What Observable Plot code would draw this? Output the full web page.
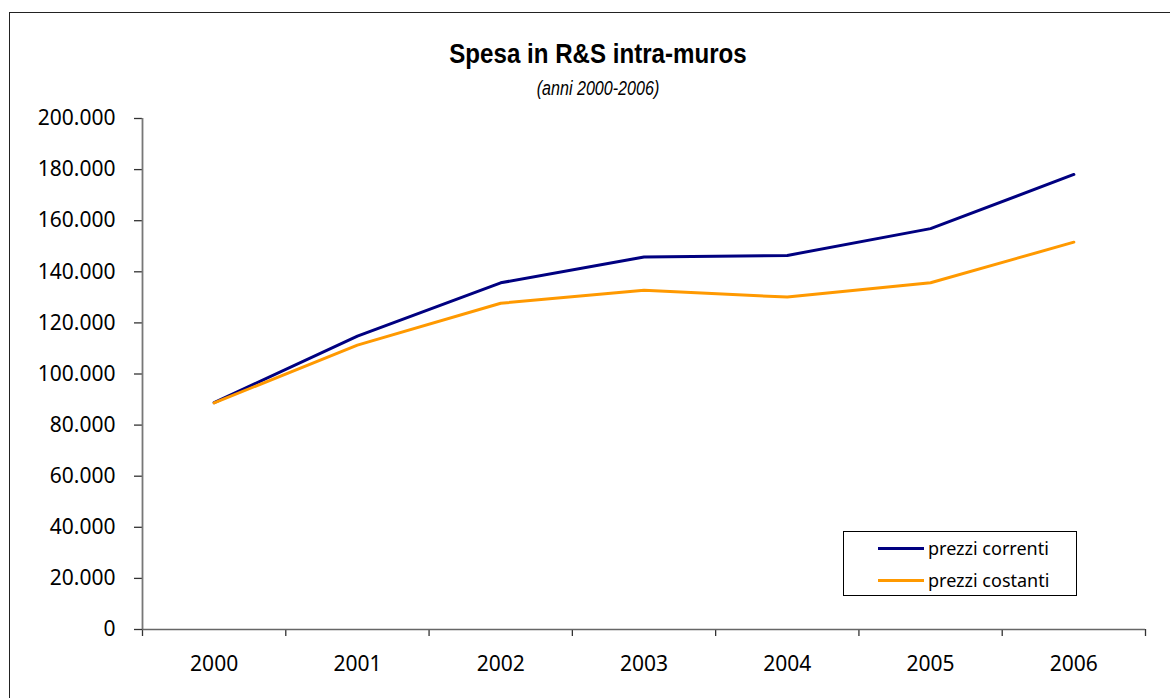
<!DOCTYPE html>
<html>
<head>
<meta charset="utf-8">
<script src="https://cdn.jsdelivr.net/npm/d3@7"></script>
<script src="https://cdn.jsdelivr.net/npm/@observablehq/plot@0.6"></script>
<style>
  html, body { margin: 0; padding: 0; background: #fff; overflow: hidden; }
  body { width: 1170px; height: 698px; position: relative; }
  #frame { position: absolute; left: 9px; top: 12px; width: 1200px; height: 720px;
           border-left: 1.5px solid #222; border-top: 1.5px solid #222; }
  #title { position: absolute; left: 0; width: 1196px; top: 39px; text-align: center;
           font-family: "Liberation Sans Narrow", "Liberation Sans", Arial, sans-serif;
           font-weight: bold; font-size: 28.5px; color: #000; line-height: 1;
           transform: scaleX(0.846); transform-origin: 598px 0; }
  #subtitle { position: absolute; left: 0; width: 1196px; top: 78.5px; text-align: center;
           font-family: "Liberation Sans Narrow", "Liberation Sans", Arial, sans-serif;
           font-style: italic; font-size: 19.5px; color: #000; line-height: 1;
           transform: scaleX(0.825); transform-origin: 598px 0; }
  #chart { position: absolute; left: 0; top: 100px; }
  #legend { position: absolute; left: 843px; top: 531px; width: 232px; height: 63px;
            border: 1px solid #000; background: #fff;
            font-family: "Noto Sans", sans-serif; font-size: 18px; color: #000; }
  .item { position: absolute; left: 34px; height: 20px; display: flex; align-items: center; }
  .sw { width: 46px; height: 3px; margin-right: 4px; }
</style>
</head>
<body>
<div id="frame"></div>
<div id="title">Spesa in R&amp;S intra-muros</div>
<div id="subtitle">(anni 2000-2006)</div>
<div id="chart"></div>
<div id="legend"></div>
<script>
const years = [2000, 2001, 2002, 2003, 2004, 2005, 2006];
const prezziCorrenti = [88800, 114800, 135700, 145800, 146400, 156900, 178100];
const prezziCostanti = [88700, 111300, 127700, 132800, 130100, 135700, 151600];
const seriesNames = ["prezzi correnti", "prezzi costanti"];
const seriesColors = ["#000080", "#FF9900"];
const yTicks = [0, 20000, 40000, 60000, 80000, 100000, 120000, 140000, 160000, 180000, 200000];

const data = [];
years.forEach((y, i) => {
  data.push({year: y, value: prezziCorrenti[i], serie: seriesNames[0]});
  data.push({year: y, value: prezziCostanti[i], serie: seriesNames[1]});
});
const bounds = years.map(y => y - 0.5).concat([years[years.length - 1] + 0.5]);

const it = d3.formatLocale({decimal: ",", thousands: ".", grouping: [3], currency: ["€", ""]});
const fmt = it.format(",d");

const font = "Noto Sans, sans-serif";
const plot = Plot.plot({
  width: 1170,
  height: 598,
  marginLeft: 142,
  marginRight: 25,
  marginTop: 18,
  marginBottom: 69,
  style: {fontFamily: font, fontSize: "21px", color: "#000", background: "transparent"},
  x: {type: "linear", domain: [bounds[0], bounds[bounds.length - 1]]},
  y: {domain: [0, 200000]},
  color: {domain: seriesNames, range: seriesColors},
  marks: [
    Plot.axisY(yTicks, {tickSize: 8, tickPadding: 19, tickFormat: fmt, stroke: "#333", strokeWidth: 1.3, label: null, fontSize: 21}),
    Plot.axisX(bounds, {tickSize: 7, tickFormat: () => "", stroke: "#333", strokeWidth: 1.3, label: null}),
    Plot.axisX(years, {tickSize: 0, tickPadding: 27, tickFormat: d => String(d), label: null, fontSize: 21}),
    Plot.ruleX([bounds[0]], {stroke: "#777", strokeWidth: 1.8}),
    Plot.ruleY([0], {stroke: "#666", strokeWidth: 1.6}),
    Plot.line(data, {x: "year", y: "value", z: "serie", stroke: "serie", strokeWidth: 3, strokeLinejoin: "round"})
  ]
});
document.getElementById("chart").appendChild(plot);

const legend = document.getElementById("legend");
seriesNames.forEach((name, i) => {
  const item = document.createElement("div");
  item.className = "item";
  item.style.top = (6 + i * 32) + "px";
  const sw = document.createElement("div");
  sw.className = "sw";
  sw.style.background = seriesColors[i];
  const t = document.createElement("span");
  t.textContent = name;
  item.appendChild(sw);
  item.appendChild(t);
  legend.appendChild(item);
});
</script>
</body>
</html>
